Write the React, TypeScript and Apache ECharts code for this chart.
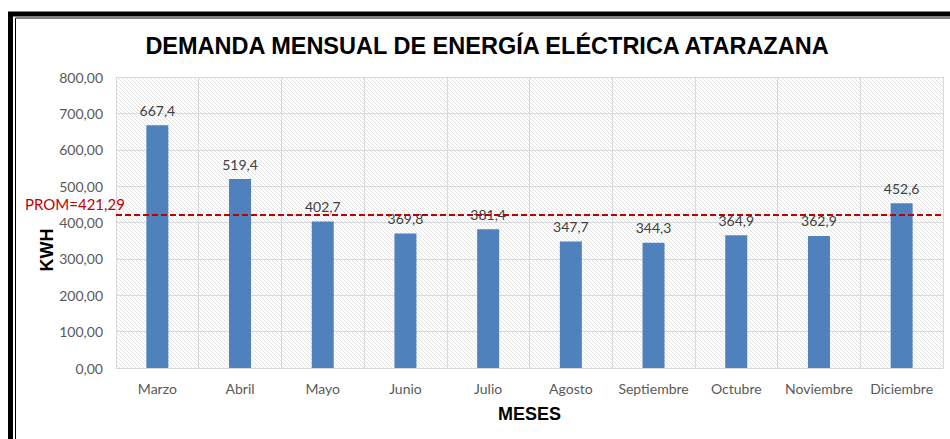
import React, { useEffect, useRef } from "react";
import * as echarts from "echarts";

const MESES = ["Marzo", "Abril", "Mayo", "Junio", "Julio", "Agosto", "Septiembre", "Octubre", "Noviembre", "Diciembre"];
const DEMANDA_KWH = [667.4, 519.4, 402.7, 369.8, 381.4, 347.7, 344.3, 364.9, 362.9, 452.6];
const PROMEDIO = 421.29;
const Y_MIN = 0;
const Y_MAX = 800;
const Y_STEP = 100;

const TITLE = "DEMANDA MENSUAL DE ENERGÍA ELÉCTRICA ATARAZANA";
const LABEL_FONT = "Lato, 'Open Sans', sans-serif";
const BOLD_FONT = "'Liberation Sans', Arial, sans-serif";

function makeHatch(): string {
  const c = document.createElement("canvas");
  c.width = 8;
  c.height = 8;
  const ctx = c.getContext("2d");
  if (ctx) {
    ctx.fillStyle = "#ffffff";
    ctx.fillRect(0, 0, 8, 8);
    ctx.strokeStyle = "#e2e2e2";
    ctx.lineWidth = 1;
    for (let x0 = -8; x0 <= 8; x0 += 4) {
      ctx.beginPath();
      ctx.moveTo(x0, 0);
      ctx.lineTo(x0 + 8, 8);
      ctx.stroke();
    }
  }
  return c.toDataURL();
}

export default function App() {
  const ref = useRef<HTMLDivElement>(null);

  useEffect(() => {
    if (!ref.current) return;
    const chart = echarts.init(ref.current, undefined, { renderer: "svg" });
    const hatch = makeHatch();
    const comma = (v: number, d: number) => v.toFixed(d).replace(".", ",");

    chart.setOption({
      animation: false,
      backgroundColor: "#ffffff",
      title: {
        text: TITLE,
        left: 482,
        top: 29,
        textAlign: "center",
        textStyle: { fontFamily: BOLD_FONT, fontWeight: "bold", fontSize: 23.5, color: "#000000" },
      },
      graphic: [
        {
          type: "rect",
          silent: true,
          shape: { x: 10.5, y: 14, width: 1200, height: 800 },
          style: { fill: "none", stroke: "#000000", lineWidth: 5 },
        },
        {
          type: "rect",
          silent: true,
          shape: { x: 15.5, y: 18, width: 1200, height: 800 },
          style: { fill: "none", stroke: "#000000", lineWidth: 1 },
        },
        {
          type: "text",
          silent: true,
          x: 47,
          y: 250,
          rotation: Math.PI / 2,
          style: {
            text: "KWH",
            fontFamily: BOLD_FONT,
            fontWeight: "bold",
            fontSize: 18,
            fill: "#000000",
            textAlign: "center",
            textVerticalAlign: "middle",
          },
        },
      ],
      grid: {
        left: 116,
        right: 7,
        top: 77,
        bottom: 71,
        show: true,
        borderWidth: 0,
        backgroundColor: { image: hatch, repeat: "repeat" },
      },
      xAxis: {
        type: "category",
        data: MESES,
        name: "MESES",
        nameLocation: "middle",
        nameGap: 37,
        nameTextStyle: { fontFamily: BOLD_FONT, fontWeight: "bold", fontSize: 18, color: "#000000" },
        axisLine: { show: true, lineStyle: { color: "#d9d9d9", width: 1 } },
        axisTick: { show: false, interval: 0 },
        splitLine: { show: true, interval: 0, lineStyle: { color: "#d9d9d9", width: 1 } },
        axisLabel: { interval: 0, fontFamily: LABEL_FONT, fontSize: 14, color: "#595959", margin: 13 },
      },
      yAxis: {
        type: "value",
        min: Y_MIN,
        max: Y_MAX,
        interval: Y_STEP,
        axisLine: { show: false },
        axisTick: { show: false },
        splitLine: { show: true, lineStyle: { color: "#d9d9d9", width: 1 } },
        axisLabel: {
          fontFamily: LABEL_FONT,
          fontSize: 14,
          color: "#595959",
          margin: 13,
          formatter: (v: number) => comma(v, 2),
        },
      },
      series: [
        {
          type: "bar",
          data: DEMANDA_KWH,
          barWidth: 22,
          itemStyle: { color: "#4f81bd" },
          label: {
            show: true,
            position: "top",
            distance: 8,
            fontFamily: LABEL_FONT,
            fontSize: 14,
            color: "#404040",
            formatter: (p: any) => comma(p.value, 1),
          },
          markLine: {
            silent: true,
            symbol: "none",
            lineStyle: { color: "#c00000", type: [6, 3], width: 2 },
            label: {
              show: true,
              position: "insideStartTop",
              distance: [-91, 3],
              fontFamily: LABEL_FONT,
              fontSize: 15,
              color: "#c00000",
              formatter: "PROM=" + comma(PROMEDIO, 2),
            },
            data: [{ yAxis: PROMEDIO }],
          },
        },
      ],
    });

    return () => chart.dispose();
  }, []);

  return (
    <div
      ref={ref}
      style={{ position: "absolute", left: 0, top: 0, width: 950, height: 439 }}
    />
  );
}
